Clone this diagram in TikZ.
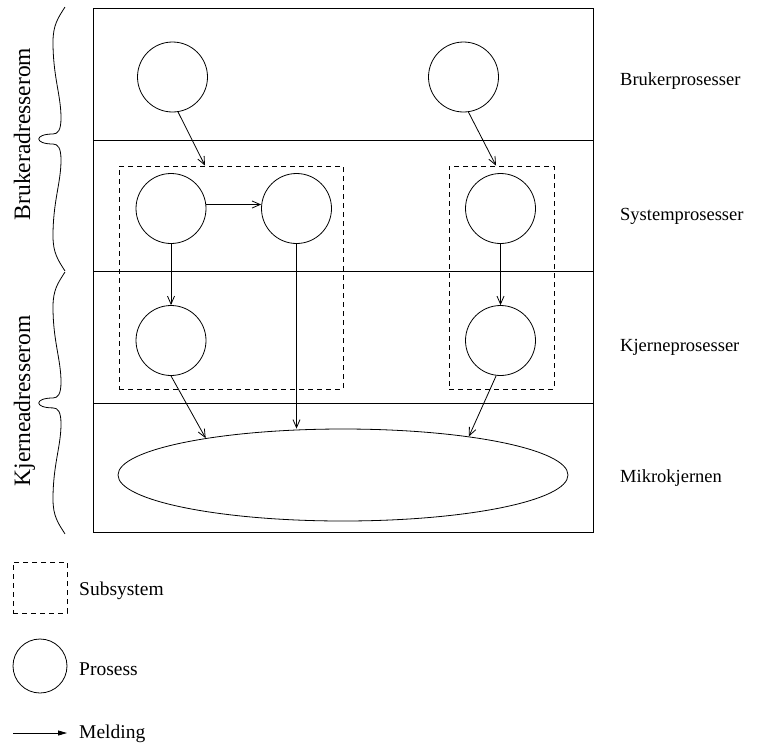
\documentclass[tikz,border=0pt]{standalone}
\usepackage{fontspec}
\setmainfont{Liberation Serif}
\usetikzlibrary{arrows.meta,shapes.geometric}

\tikzset{
  proc/.style={circle,draw,minimum size=70pt,inner sep=0pt,line width=0.8pt},
  subsys/.style={draw,dash pattern=on 5pt off 4pt,line width=0.8pt,inner sep=0pt},
  msg/.style={-{Straight Barb[length=8pt,width=7pt]},line width=0.8pt},
  bandline/.style={line width=0.9pt},
  rowlabel/.style={anchor=base west,inner sep=0pt,font=\fontsize{18.5}{22}\selectfont},
  spacelabel/.style={anchor=base,rotate=90,inner sep=0pt,font=\fontsize{23.5}{28}\selectfont},
  legendtext/.style={anchor=base west,inner sep=0pt,font=\fontsize{19.5}{23}\selectfont},
  curlybrace/.pic={
    \draw[line width=0.8pt] (0,0) .. controls (-7,11) and (-12,18) .. (-12,35)
      .. controls (-12,70) and (-4,88) .. (-4,111)
      .. controls (-4,123) and (-7,127) .. (-12,127)
      .. controls (-31,127) and (-31,137) .. (-12,137)
      .. controls (-7,137) and (-4,141) .. (-4,153)
      .. controls (-4,176) and (-12,194) .. (-12,229)
      .. controls (-12,246) and (-7,253) .. (0,264);
  }
}

\begin{document}
\begin{tikzpicture}[x=1pt,y=-1pt]
\useasboundingbox (0,0) rectangle (770,742);

% outer frame and the four bands
\draw[bandline] (93,8) rectangle (593,532);
\draw[bandline] (93,140) -- (593,140);
\draw[bandline] (93,271) -- (593,271);
\draw[bandline] (93,403) -- (593,403);

% address space braces
\pic at (65,7) {curlybrace};
\pic[yscale=0.992] at (65,272) {curlybrace};
\node[spacelabel] (ua) at (30,134) {Brukeradresserom};
\node[spacelabel] (ka) at (30,401) {Kjerneadresserom};

% subsystems
\node[subsys,minimum width=224pt,minimum height=223pt] (S1) at (231,277.5) {};
\node[subsys,minimum width=105pt,minimum height=223pt] (S2) at (501.5,277.5) {};

% processes
\node[proc] (P1) at (172.5,77) {};
\node[proc] (P2) at (463.5,77) {};
\node[proc] (A) at (171,208.5) {};
\node[proc] (B) at (296.5,208.5) {};
\node[proc] (Y2) at (500.5,208.5) {};
\node[proc] (C) at (171,340.5) {};
\node[proc] (K2) at (500.5,340.5) {};

% microkernel
\node[ellipse,draw,line width=0.8pt,minimum width=450pt,minimum height=92pt,inner sep=0pt] (M) at (343,475) {};

% messages
\draw[msg] (P1.-81) -- ([xshift=-26pt]S1.north);
\draw[msg] (P2.-82) -- ([xshift=-5.5pt]S2.north);
\draw[msg] ([yshift=4pt]A.east) -- ([yshift=4pt]B.west);
\draw[msg] (A.south) -- (C.north);
\draw[msg] (B.south) -- (B.south |- M.north);
\draw[msg] (C.south) -- (M.165);
\draw[msg] (Y2.south) -- (K2.north);
\draw[msg] (K2.-97) -- (M.17);

% band labels
\node[rowlabel] (lb) at (620,85) {Brukerprosesser};
\node[rowlabel] (ls) at (620,220) {Systemprosesser};
\node[rowlabel] (lk) at (620,351) {Kjerneprosesser};
\node[rowlabel] (lm) at (620,482) {Mikrokjernen};

% legend
\node[subsys,minimum width=54pt,minimum height=51pt] (keysub) at (40,587.5) {};
\node[legendtext] (tsub) at (79,595) {Subsystem};
\node[circle,draw,line width=0.8pt,minimum size=54pt,inner sep=0pt] (keyproc) at (40,666) {};
\node[legendtext] (tproc) at (79,675) {Prosess};
\coordinate (keya) at (13,733);
\coordinate (keyb) at (67,733);
\draw[-{Triangle[length=9pt,width=5pt]},line width=0.8pt] (keya) -- (keyb);
\node[legendtext] (tmsg) at (79,738) {Melding};
\end{tikzpicture}
\end{document}
